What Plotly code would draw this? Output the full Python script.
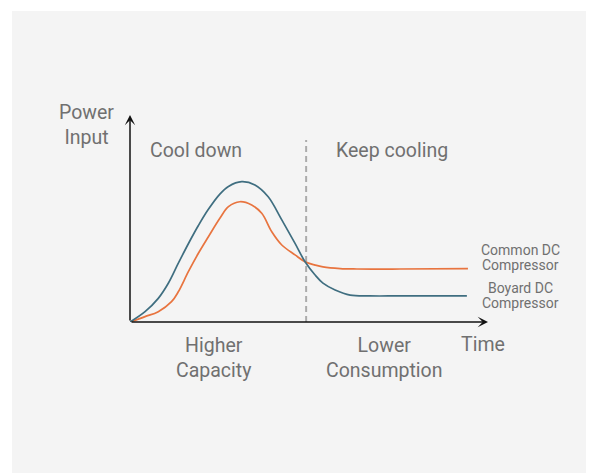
import plotly.graph_objects as go

# Data (arbitrary units: time 0..10, power 0..10)
time_boyard = [0, 0.42, 0.79, 1.07, 1.35, 1.63, 1.91, 2.18, 2.51, 2.75, 3.12, 3.49, 3.86, 4.24, 4.61, 4.89, 5.17, 5.39, 5.73, 6.15, 6.70, 7.54, 9.41]
power_boyard = [0, 0.50, 1.14, 1.87, 2.84, 3.78, 4.66, 5.42, 6.18, 6.55, 6.78, 6.62, 6.05, 4.93, 3.80, 2.91, 2.27, 1.88, 1.55, 1.30, 1.26, 1.26, 1.26]

time_common = [0, 0.42, 0.79, 1.16, 1.35, 1.63, 1.91, 2.19, 2.51, 2.75, 3.07, 3.40, 3.68, 3.96, 4.24, 4.61, 4.89, 5.17, 5.39, 5.87, 6.34, 7.54, 9.44]
power_common = [0, 0.26, 0.50, 0.98, 1.46, 2.43, 3.32, 4.12, 5.01, 5.57, 5.81, 5.65, 5.25, 4.36, 3.72, 3.24, 2.91, 2.75, 2.66, 2.58, 2.56, 2.56, 2.58]

phase_split = 4.92
phase_top = 8.79

BLUE = "#3f6e80"
ORANGE = "#e8743f"
TXT = "#707070"
FONT = "Roboto"

fig = go.Figure()
fig.add_trace(go.Scatter(x=time_common, y=power_common, mode="lines",
                         line=dict(color=ORANGE, width=1.7, shape="spline", smoothing=1.0),
                         hoverinfo="skip", showlegend=False))
fig.add_trace(go.Scatter(x=time_boyard, y=power_boyard, mode="lines",
                         line=dict(color=BLUE, width=1.7, shape="spline", smoothing=1.0),
                         hoverinfo="skip", showlegend=False))

shapes = [
    dict(type="rect", xref="paper", yref="paper", x0=-0.3296, x1=1.2933, y0=-0.8, y1=1.5024,
         fillcolor="#f4f4f4", line=dict(width=0), layer="below"),
    dict(type="line", xref="x", yref="y", x0=phase_split, x1=phase_split, y0=0, y1=phase_top,
         line=dict(color="#ababab", width=2, dash="6px,4px"), layer="below"),
]

ann = []
# axes arrows
ann.append(dict(x=0, y=10, ax=0, ay=0, xref="x", yref="y", axref="x", ayref="y",
                showarrow=True, arrowhead=3, arrowsize=1.15, arrowwidth=1.5, arrowcolor="#111", text=""))
ann.append(dict(x=10, y=0, ax=0, ay=0, xref="x", yref="y", axref="x", ayref="y",
                showarrow=True, arrowhead=3, arrowsize=1.15, arrowwidth=1.5, arrowcolor="#111", text=""))

def label(text, x, y, size=19.5, xanchor="center"):
    ann.append(dict(text=text, x=x, y=y, xref="paper", yref="paper", showarrow=False,
                    xanchor=xanchor, yanchor="middle", align="center",
                    font=dict(family=FONT, size=size, color=TXT)))

label("Power<br>Input", -0.1229, 0.9517)
label("Cool down", 0.0489, 0.8309, xanchor="left")
label("Keep cooling", 0.5712, 0.8309, xanchor="left")
label("Time", 0.9176, -0.1111, xanchor="left")
label("Higher<br>Capacity", 0.2333, -0.1739)
label("Lower<br>Consumption", 0.7095, -0.1739)
label("Common DC", 1.0894, 0.3502, size=14)
label("Compressor", 1.0894, 0.2768, size=14)
label("Boyard DC", 1.0894, 0.1643, size=14)
label("Compressor", 1.0894, 0.0903, size=14)

# The page adds an 8px body margin, so the figure is 8px smaller and margins shifted
fig.update_layout(
    width=586, height=465, autosize=False,
    margin=dict(l=122, r=106, t=107, b=151, pad=0),
    paper_bgcolor="white", plot_bgcolor="rgba(0,0,0,0)",
    xaxis=dict(range=[0, 10], visible=False, fixedrange=True),
    yaxis=dict(range=[0, 10], visible=False, fixedrange=True),
    shapes=shapes, annotations=ann,
    font=dict(family=FONT, color=TXT),
)

fig.write_html("out.html", config={"displayModeBar": False})
